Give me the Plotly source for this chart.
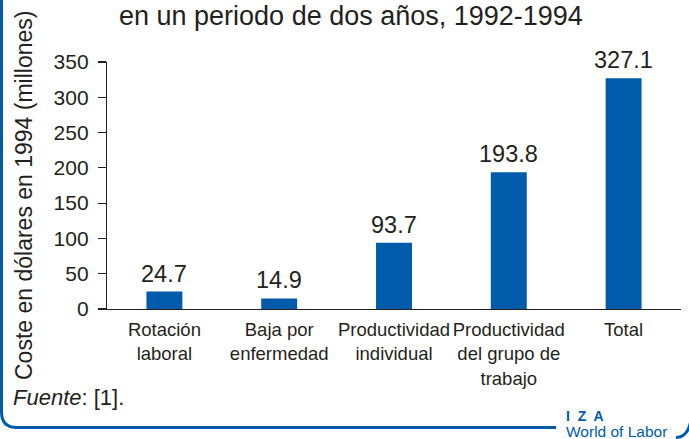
import plotly.graph_objects as go

categories = ["Rotación<br>laboral", "Baja por<br>enfermedad", "Productividad<br>individual",
              "Productividad<br>del grupo de<br>trabajo", "Total"]
values = [24.7, 14.9, 93.7, 193.8, 327.1]
value_labels = ["24.7", "14.9", "93.7", "193.8", "327.1"]
y_ticks = [0, 50, 100, 150, 200, 250, 300, 350]

W, H = 689, 439
ML, MR, MT, MB = 107, 8, 62, 130
PW = W - ML - MR
PH = H - MT - MB

def px(x):
    return (x - ML) / PW

def py(y):
    return (H - MB - y) / PH

BLUE = "#005BAA"
TXT = "#231F20"
FONT = "Liberation Sans"

fig = go.Figure()
fig.add_trace(go.Bar(
    x=list(range(len(categories))), y=values,
    marker=dict(color=BLUE, line=dict(width=0)),
    hoverinfo="skip",
))

for i, (v, t) in enumerate(zip(values, value_labels)):
    fig.add_annotation(x=i, y=v, text=t, showarrow=False, xref="x", yref="y",
                       yanchor="bottom", yshift=3,
                       font=dict(size=23.5, color=TXT, family=FONT))

# title (second line visible)
fig.add_annotation(x=px(351), y=py(16), xref="paper", yref="paper",
                   text="en un periodo de dos años, 1992-1994", showarrow=False,
                   xanchor="center", yanchor="middle",
                   font=dict(size=27, color=TXT, family=FONT))
# y-axis title
fig.add_annotation(x=px(24), y=py(196), xref="paper", yref="paper",
                   text="Coste en dólares en 1994 (millones)", showarrow=False,
                   textangle=-90, xanchor="center", yanchor="middle",
                   font=dict(size=23, color=TXT, family=FONT))
# source
fig.add_annotation(x=px(11), y=py(397), xref="paper", yref="paper",
                   text="<i>Fuente</i>: [1].", showarrow=False,
                   xanchor="left", yanchor="middle",
                   font=dict(size=22, color=TXT, family=FONT))
# IZA logo text
fig.add_annotation(x=px(564), y=py(416), xref="paper", yref="paper",
                   text="<b>I  Z  A</b>", showarrow=False,
                   xanchor="left", yanchor="middle",
                   font=dict(size=14, color=BLUE, family=FONT))
fig.add_annotation(x=px(564), y=py(431), xref="paper", yref="paper",
                   text="World of Labor", showarrow=False,
                   xanchor="left", yanchor="middle",
                   font=dict(size=15.5, color=BLUE, family=FONT))

# frame pieces
left_path = (f"M {px(1.5)},{py(-2)} L {px(1.5)},{py(412)} "
             f"Q {px(1.5)},{py(427.5)} {px(17)},{py(427.5)} L {px(556)},{py(427.5)}")
right_path = f"M {px(676)},{py(437.5)} Q {px(688)},{py(437.5)} {px(691)},{py(420)}"
for p in (left_path, right_path):
    fig.add_shape(type="path", path=p, xref="paper", yref="paper",
                  line=dict(color=BLUE, width=3), layer="above")

fig.update_layout(
    width=W, height=H, autosize=False,
    margin=dict(l=ML, r=MR, t=MT, b=MB, autoexpand=False),
    paper_bgcolor="white", plot_bgcolor="white",
    bargap=0.687, showlegend=False,
    font=dict(family=FONT, color=TXT),
)
fig.update_xaxes(
    range=[-0.5, len(categories) - 0.5], automargin=False,
    tickmode="array", tickvals=list(range(len(categories))), ticktext=categories,
    tickangle=0,
    showline=True, linecolor="#231F20", linewidth=1.2,
    ticks="", showgrid=False, zeroline=False,
    tickfont=dict(size=18.5, color=TXT, family=FONT),
    ticklabelstandoff=4,
)
fig.update_yaxes(
    range=[0, 350], tickmode="array", tickvals=y_ticks, automargin=False,
    showline=True, linecolor="#231F20", linewidth=1.2,
    ticks="outside", ticklen=8, tickwidth=1.2, tickcolor="#231F20",
    showgrid=False, zeroline=False,
    tickfont=dict(size=21, color=TXT, family=FONT),
    ticklabelstandoff=5,
)

fig.write_html("out.html", config={"displayModeBar": False, "staticPlot": True},
               post_script="document.body.style.margin='0';")
